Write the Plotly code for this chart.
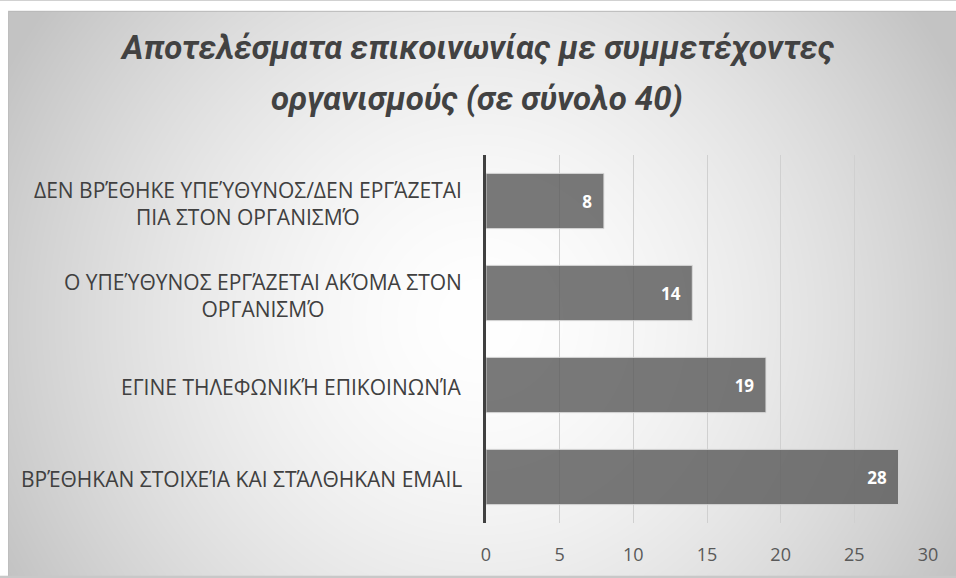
import base64, struct, zlib
import numpy as np
import plotly.graph_objects as go

# ---------------- data ----------------
categories = [
    "ΔΕΝ ΒΡΈΘΗΚΕ ΥΠΕΎΘΥΝΟΣ/ΔΕΝ ΕΡΓΆΖΕΤΑΙ ΠΙΑ ΣΤΟΝ ΟΡΓΑΝΙΣΜΌ",
    "Ο ΥΠΕΎΘΥΝΟΣ ΕΡΓΆΖΕΤΑΙ ΑΚΌΜΑ ΣΤΟΝ ΟΡΓΑΝΙΣΜΌ",
    "ΕΓΙΝΕ ΤΗΛΕΦΩΝΙΚΉ ΕΠΙΚΟΙΝΩΝΊΑ",
    "ΒΡΈΘΗΚΑΝ ΣΤΟΙΧΕΊΑ ΚΑΙ ΣΤΆΛΘΗΚΑΝ EMAIL",
]
category_labels = [
    "ΔΕΝ ΒΡΈΘΗΚΕ ΥΠΕΎΘΥΝΟΣ/ΔΕΝ ΕΡΓΆΖΕΤΑΙ<br>ΠΙΑ ΣΤΟΝ ΟΡΓΑΝΙΣΜΌ",
    "Ο ΥΠΕΎΘΥΝΟΣ ΕΡΓΆΖΕΤΑΙ ΑΚΌΜΑ ΣΤΟΝ<br>ΟΡΓΑΝΙΣΜΌ",
    "ΕΓΙΝΕ ΤΗΛΕΦΩΝΙΚΉ ΕΠΙΚΟΙΝΩΝΊΑ",
    "ΒΡΈΘΗΚΑΝ ΣΤΟΙΧΕΊΑ ΚΑΙ ΣΤΆΛΘΗΚΑΝ EMAIL",
]
values = [8, 14, 19, 28]
x_ticks = [0, 5, 10, 15, 20, 25, 30]
title_lines = ["Αποτελέσματα επικοινωνίας με συμμετέχοντες",
               "οργανισμούς (σε σύνολο 40)"]

# ---------------- layout constants (page pixels; body margin removed) ----------------
FW, FH = 956, 578
ML, MR, MT, MB = 486, 28, 155, 53
PW, PH = FW - ML - MR, FH - MT - MB
BG_X0, BG_Y0 = 8, 10

# ---------------- radial gradient background (style only) ----------------
def make_gradient_png(w, h, scale):
    yy, xx = np.mgrid[0:h, 0:w].astype(float)
    xx = xx * scale
    yy = yy * scale
    cx, cy = 480.0, 320.0
    d = np.sqrt((xx - cx) ** 2 + (yy - cy) ** 2)
    t = np.clip(d / 540.0, 0, 1)
    g = 255 - 60 * t ** 1.6
    # thin frame line and white outer margin (top / left)
    g[(np.abs(yy - BG_Y0) < 1) & (xx >= BG_X0)] = 185
    g[(np.abs(xx - BG_X0) < 1) & (yy >= BG_Y0)] = 190
    g[(yy < BG_Y0 - 0.5) | (xx < BG_X0 - 0.5)] = 255
    img = np.clip(g, 0, 255).astype(np.uint8)
    raw = b"".join(b"\x00" + img[r].tobytes() for r in range(h))
    def chunk(tag, data):
        c = struct.pack(">I", len(data)) + tag + data
        return c + struct.pack(">I", zlib.crc32(tag + data) & 0xFFFFFFFF)
    png = b"\x89PNG\r\n\x1a\n"
    png += chunk(b"IHDR", struct.pack(">IIBBBBB", w, h, 8, 0, 0, 0, 0))
    png += chunk(b"IDAT", zlib.compress(raw, 9))
    png += chunk(b"IEND", b"")
    return "data:image/png;base64," + base64.b64encode(png).decode()

bg_src = make_gradient_png(FW, FH, 1.0)

def px_to_paper_x(px):
    return (px - ML) / PW

def px_to_paper_y(py):
    return (FH - MB - py) / PH

fig = go.Figure()
fig.add_trace(go.Bar(
    x=values,
    y=categories,
    orientation="h",
    marker=dict(color="rgba(88,88,88,0.8)",
                line=dict(color="rgba(215,215,215,0.9)", width=1)),
    texttemplate="<b>%{x}</b>\u00a0\u00a0",
    textposition="inside",
    insidetextanchor="end",
    textangle=0,
    constraintext="none",
    textfont=dict(family="Open Sans", size=17, color="white"),
    hoverinfo="skip",
))

annotations = []
for cat, lab in zip(categories, category_labels):
    annotations.append(dict(
        x=0, xref="paper", y=cat, yref="y",
        xanchor="right", xshift=-22, yanchor="middle", yshift=-2,
        text=lab, showarrow=False, align="center",
        font=dict(family="Open Sans", size=21, color="#404040"),
    ))

title_centers_y = [47, 98]
for line, cy in zip(title_lines, title_centers_y):
    annotations.append(dict(
        x=px_to_paper_x(477), xref="paper", xanchor="center",
        y=px_to_paper_y(cy), yref="paper", yanchor="middle",
        text="<b><i>" + line + "</i></b>", showarrow=False,
        font=dict(family="Roboto", size=33, color="#424242"),
    ))

fig.update_layout(
    width=FW, height=FH,
    margin=dict(l=ML, r=MR, t=MT, b=MB, pad=0),
    paper_bgcolor="#c8c8c8",
    plot_bgcolor="rgba(0,0,0,0)",
    showlegend=False,
    bargap=0.4,
    xaxis=dict(
        range=[0, 30], tickvals=x_ticks, ticks="",
        showgrid=True, gridcolor="#d0d0d0", gridwidth=1,
        zeroline=False, showline=False,
        tickfont=dict(family="Open Sans", size=18, color="#595959"),
        ticklabelstandoff=19,
        fixedrange=True,
    ),
    yaxis=dict(
        categoryorder="array", categoryarray=categories,
        autorange="reversed",
        showticklabels=False, ticks="", showgrid=False,
        showline=True, linecolor="#404040", linewidth=3,
        zeroline=False, fixedrange=True,
    ),
    annotations=annotations,
    images=[dict(
        source=bg_src, xref="paper", yref="paper",
        x=px_to_paper_x(0), y=px_to_paper_y(0),
        sizex=FW / PW, sizey=FH / PH,
        xanchor="left", yanchor="top", sizing="stretch", layer="below",
    )],
)

fig.write_html(
    "out.html",
    config={"displayModeBar": False},
    post_script="document.body.style.margin='0';document.body.style.overflow='hidden';",
)
